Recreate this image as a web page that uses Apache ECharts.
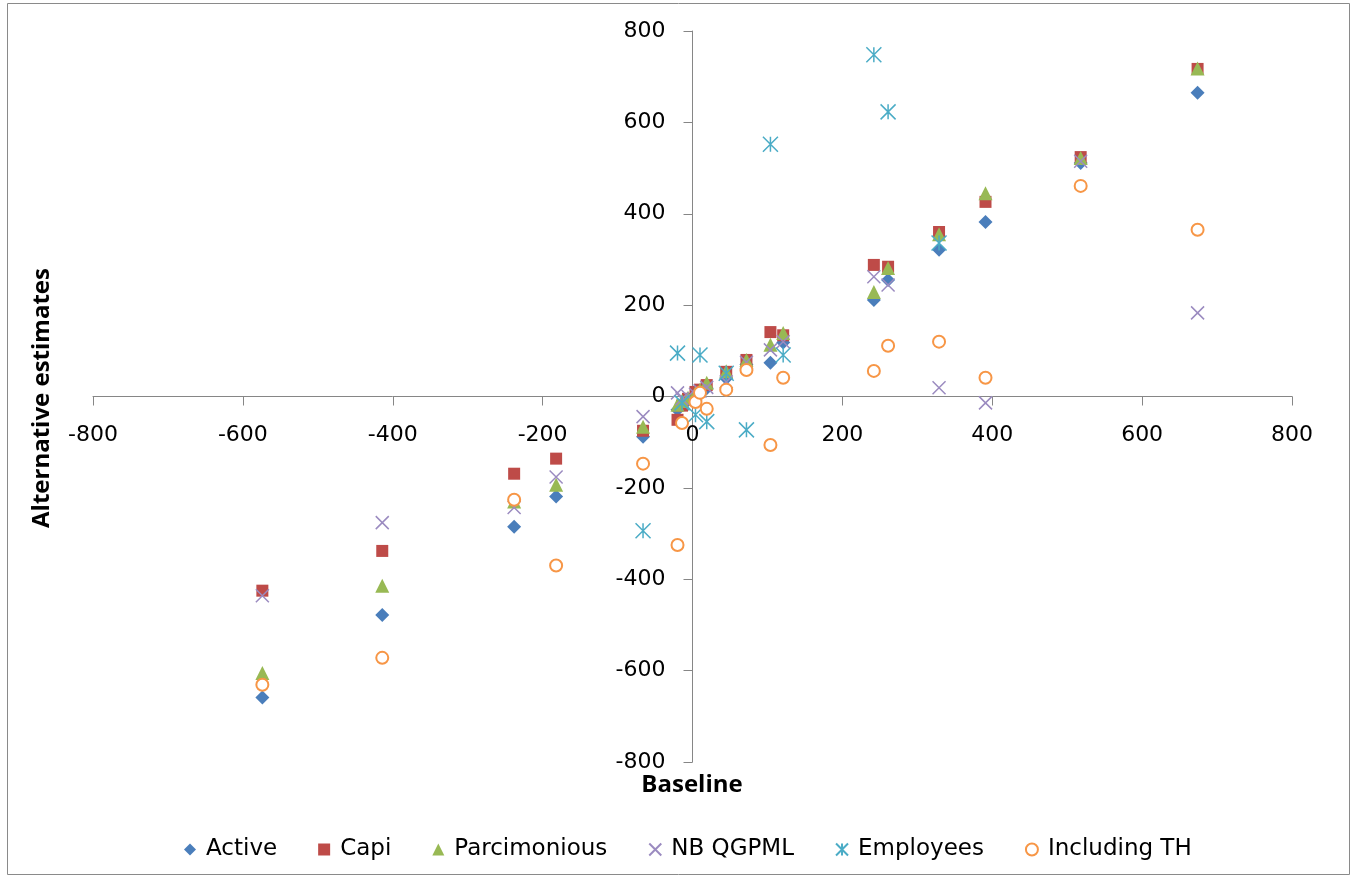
<!DOCTYPE html>
<html>
<head>
<meta charset="utf-8">
<title>Alternative estimates vs baseline</title>
<script src="https://cdn.jsdelivr.net/npm/echarts@6/dist/echarts.min.js"></script>
<style>
  html, body { margin: 0; padding: 0; background: #ffffff; }
  #chart { width: 1352px; height: 878px; }
</style>
</head>
<body>
<div id="chart"></div>
<script>
// Baseline values (x) shared by every estimate series
const baseline = [-574, -414, -238, -182, -66, -20, -14, -6, 4, 10, 19, 45, 72, 104, 121, 242, 261, 329, 391, 518, 674];

// Alternative estimates (y), one entry per baseline value; null = not shown
const active       = [-659, -478, -285, -219, -88, -29, -18, -8, 4, 10, 18, 40, 70, 74, 118, 211, 255, 321, 382, 511, 665];
const capi         = [-425, -338, -169, -136, -75, -51, -20, -5, 10, 15, 25, 54, 80, 141, 134, 288, 284, 360, 426, 524, 717];
const parcimonious = [-605, -414, -230, -193, -66, -18, -10, -3, 8, 15, 30, 55, 80, 113, 139, 229, 281, 355, 445, 522, 718];
const nbQgpml      = [-436, -276, -243, -176, -44, 8, -5, 0, 5, 12, 20, 32, 75, 102, 120, 262, 244, 19, -14, 515, 183];
const employees    = [null, null, null, null, -294, 95, -14, null, -40, 91, -55, 51, -73, 552, 91, 748, 623, 336, null, null, null];
const includingTH  = [-631, -572, -226, -370, -147, -325, -58, null, -12, 8, -27, 15, 58, -106, 41, 56, 111, 120, 41, 461, 365];

// Axis ranges and tick step
const xTicks = { min: -800, max: 800, step: 200 };
const yTicks = { min: -800, max: 800, step: 200 };

const seriesNames = ['Active', 'Capi', 'Parcimonious', 'NB QGPML', 'Employees', 'Including TH'];

function toPoints(values) {
  const pts = [];
  values.forEach((v, i) => { if (v !== null) pts.push([baseline[i], v]); });
  return pts;
}

const FONT = '"DejaVu Sans", "Noto Sans", sans-serif';
const TITLE_FONT = '"Open Sans", "Noto Sans", sans-serif';
const AXIS_GREY = '#868686';

const crossPath = 'path://M0,0L10,10M10,0L0,10';
const starPath = 'path://M5,0L5,10M0,0L10,10M10,0L0,10';

// Plot area
const GRID = { left: 93, right: 60, top: 31, bottom: 116 };
const W = 1352, H = 878;
const plotW = W - GRID.left - GRID.right;
const plotH = H - GRID.top - GRID.bottom;

// Both axes cross at zero: shift each axis from its grid edge to the zero line
const xAxisShift = -plotH * (0 - yTicks.min) / (yTicks.max - yTicks.min);
const yAxisShift = -plotW * (0 - xTicks.min) / (xTicks.max - xTicks.min);

const chart = echarts.init(document.getElementById('chart'), null, { renderer: 'canvas' });

const option = {
  animation: false,
  backgroundColor: '#ffffff',
  grid: { left: GRID.left, right: GRID.right, top: GRID.top, bottom: GRID.bottom, containLabel: false },
  xAxis: {
    type: 'value', position: 'bottom', offset: xAxisShift,
    min: xTicks.min, max: xTicks.max, interval: xTicks.step,
    axisLine: { onZero: false, lineStyle: { color: AXIS_GREY, width: 1 } },
    axisTick: { show: true, length: 9, lineStyle: { color: AXIS_GREY } },
    axisLabel: { margin: 28, fontSize: 22, color: '#000000', fontFamily: FONT },
    splitLine: { show: false }
  },
  yAxis: {
    type: 'value', position: 'left', offset: yAxisShift,
    min: yTicks.min, max: yTicks.max, interval: yTicks.step,
    axisLine: { onZero: false, lineStyle: { color: AXIS_GREY, width: 1 } },
    axisTick: { show: true, length: 9, lineStyle: { color: AXIS_GREY } },
    axisLabel: { margin: 27, fontSize: 22, color: '#000000', fontFamily: FONT },
    splitLine: { show: false }
  },
  legend: {
    data: seriesNames,
    left: 179,
    top: 833,
    itemWidth: 12,
    itemHeight: 12,
    itemGap: 41,
    textStyle: { fontSize: 23, color: '#000000', fontFamily: FONT, padding: [0, 0, 0, 5] }
  },
  graphic: [
    {
      type: 'rect',
      shape: { x: 7.5, y: 3.5, width: 1342, height: 871 },
      style: { fill: 'none', stroke: '#8a8a8a', lineWidth: 1 },
      silent: true, z: -10
    },
    {
      type: 'text',
      x: 692, y: 785,
      style: { text: 'Baseline', fontSize: 24, fontWeight: 'bold', fontFamily: TITLE_FONT, fill: '#000000', align: 'center', verticalAlign: 'middle' }
    },
    {
      type: 'text',
      x: 42, y: 398,
      rotation: Math.PI / 2,
      style: { text: 'Alternative estimates', fontSize: 24, fontWeight: 'bold', fontFamily: TITLE_FONT, fill: '#000000', align: 'center', verticalAlign: 'middle' }
    }
  ],
  series: [
    {
      name: 'Active', type: 'scatter', data: toPoints(active),
      symbol: 'diamond', symbolSize: 14,
      itemStyle: { color: '#4A7EBB', opacity: 1 }
    },
    {
      name: 'Capi', type: 'scatter', data: toPoints(capi),
      symbol: 'rect', symbolSize: 12,
      itemStyle: { color: '#BE4B48', opacity: 1 }
    },
    {
      name: 'Parcimonious', type: 'scatter', data: toPoints(parcimonious),
      symbol: 'triangle', symbolSize: 14,
      itemStyle: { color: '#98B954', opacity: 1 }
    },
    {
      name: 'NB QGPML', type: 'scatter', data: toPoints(nbQgpml),
      symbol: crossPath, symbolSize: 13,
      itemStyle: { color: 'rgba(0,0,0,0)', borderColor: '#9B8BC0', borderWidth: 1.5, opacity: 1 }
    },
    {
      name: 'Employees', type: 'scatter', data: toPoints(employees),
      symbol: starPath, symbolSize: 15,
      itemStyle: { color: 'rgba(0,0,0,0)', borderColor: '#4BACC6', borderWidth: 1.5, opacity: 1 }
    },
    {
      name: 'Including TH', type: 'scatter', data: toPoints(includingTH),
      symbol: 'emptyCircle', symbolSize: 12,
      itemStyle: { color: '#F79646', borderColor: '#F79646', borderWidth: 1.5, opacity: 1 }
    }
  ]
};

chart.setOption(option);
</script>
</body>
</html>
